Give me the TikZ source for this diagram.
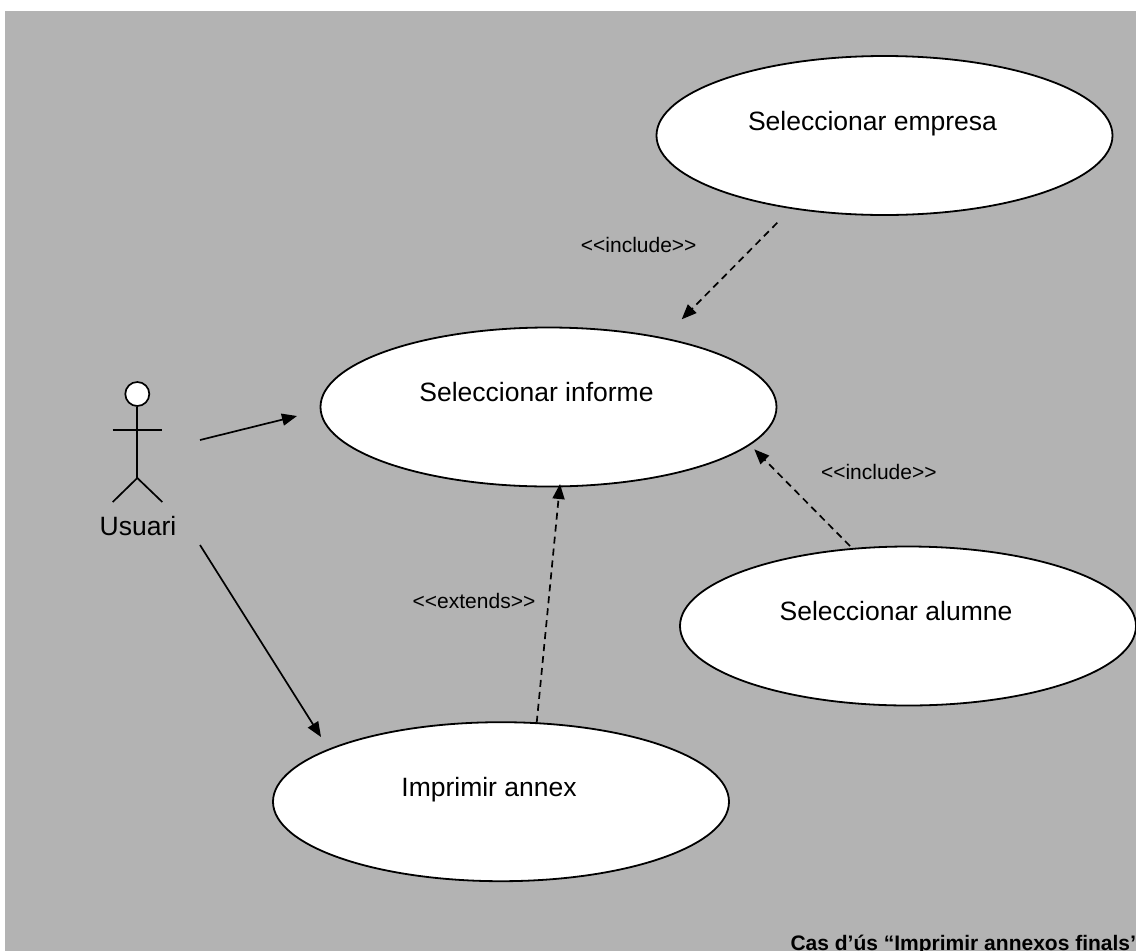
\documentclass[tikz,border=0pt]{standalone}
\usepackage{fontspec}
\setmainfont{Liberation Sans}
\usetikzlibrary{shapes.geometric,arrows.meta}
\definecolor{bggray}{RGB}{179,179,179}

\begin{document}
\begin{tikzpicture}[x=1pt,y=-1pt,
	usecase/.style={ellipse,draw,fill=white,line width=1.8pt,inner sep=0pt,minimum width=456pt,minimum height=159pt},
	casetext/.style={anchor=base,font=\fontsize{26.5}{30}\selectfont},
	stereo/.style={anchor=base,font=\fontsize{21}{25}\selectfont},
	assoc/.style={line width=1.7pt,-{Triangle[length=15pt,width=12pt]}},
	depend/.style={assoc,dash pattern=on 7pt off 5pt}]

		\useasboundingbox (0,0) rectangle (1136,951);
		\clip (0,0) rectangle (1136,951);
		\fill[bggray] (5,11) rectangle (1140,955);

		% use cases
		\node[usecase] (empresa) at (884.5,135.5) {};
		\node[usecase] (informe) at (548.5,407.0) {};
		\node[usecase] (alumne)  at (908.0,626.0) {};
		\node[usecase] (annex)   at (501.0,801.7) {};

		\node[casetext] (empresa-t) at ([shift={(-12,-5.5)}]empresa.center) {Seleccionar empresa};
		\node[casetext] (informe-t) at ([shift={(-12,-5.5)}]informe.center) {Seleccionar informe};
		\node[casetext] (alumne-t)  at ([shift={(-12,-5.5)}]alumne.center) {Seleccionar alumne};
		\node[casetext] (annex-t)   at ([shift={(-12,-5.5)}]annex.center) {Imprimir annex};

		% actor
		\node[circle,draw,fill=white,line width=1.7pt,inner sep=0pt,minimum size=24pt] (head) at (137.3,394) {};
		\coordinate (hip) at (137.3,478);
		\draw[line width=1.7pt] (head.south) -- (hip);
		\draw[line width=1.7pt] (112.7,430) -- (162.3,430);
		\draw[line width=1.7pt] (112.7,502) -- (hip) -- (162.3,502);
		\node[casetext] (usuari) at (138,535.7) {Usuari};

		% free ends of the connectors
		\coordinate (u1) at (200,440);   \coordinate (i1) at (297,416);
		\coordinate (u2) at (200,545);   \coordinate (a1) at (321,737);
		\coordinate (e1) at (777.3,222.7); \coordinate (i2) at (681.7,319.3);
		\coordinate (l1) at (850,546);   \coordinate (i3) at (754.3,449.3);
		\coordinate (x1) at (536.7,722.7); \coordinate (i4) at (560,484);

		\draw[assoc] (u1) to (i1);
		\draw[assoc] (u2) to (a1);
		\draw[depend] (e1) to (i2);
		\draw[depend] (l1) to (i3);
		\draw[depend] (x1) to (i4);

		\node[stereo] (inc1) at (638.7,252.7) {<{}<include>{}>};
		\node[stereo] (inc2) at (878.8,479.3) {<{}<include>{}>};
		\node[stereo] (ext)  at (474.0,608.3) {<{}<extends>{}>};

		\node[anchor=base west,font=\fontsize{21}{25}\selectfont\bfseries] (caption) at (787,950) {Cas d’ús “Imprimir annexos finals”};

	\end{tikzpicture}
\end{document}
